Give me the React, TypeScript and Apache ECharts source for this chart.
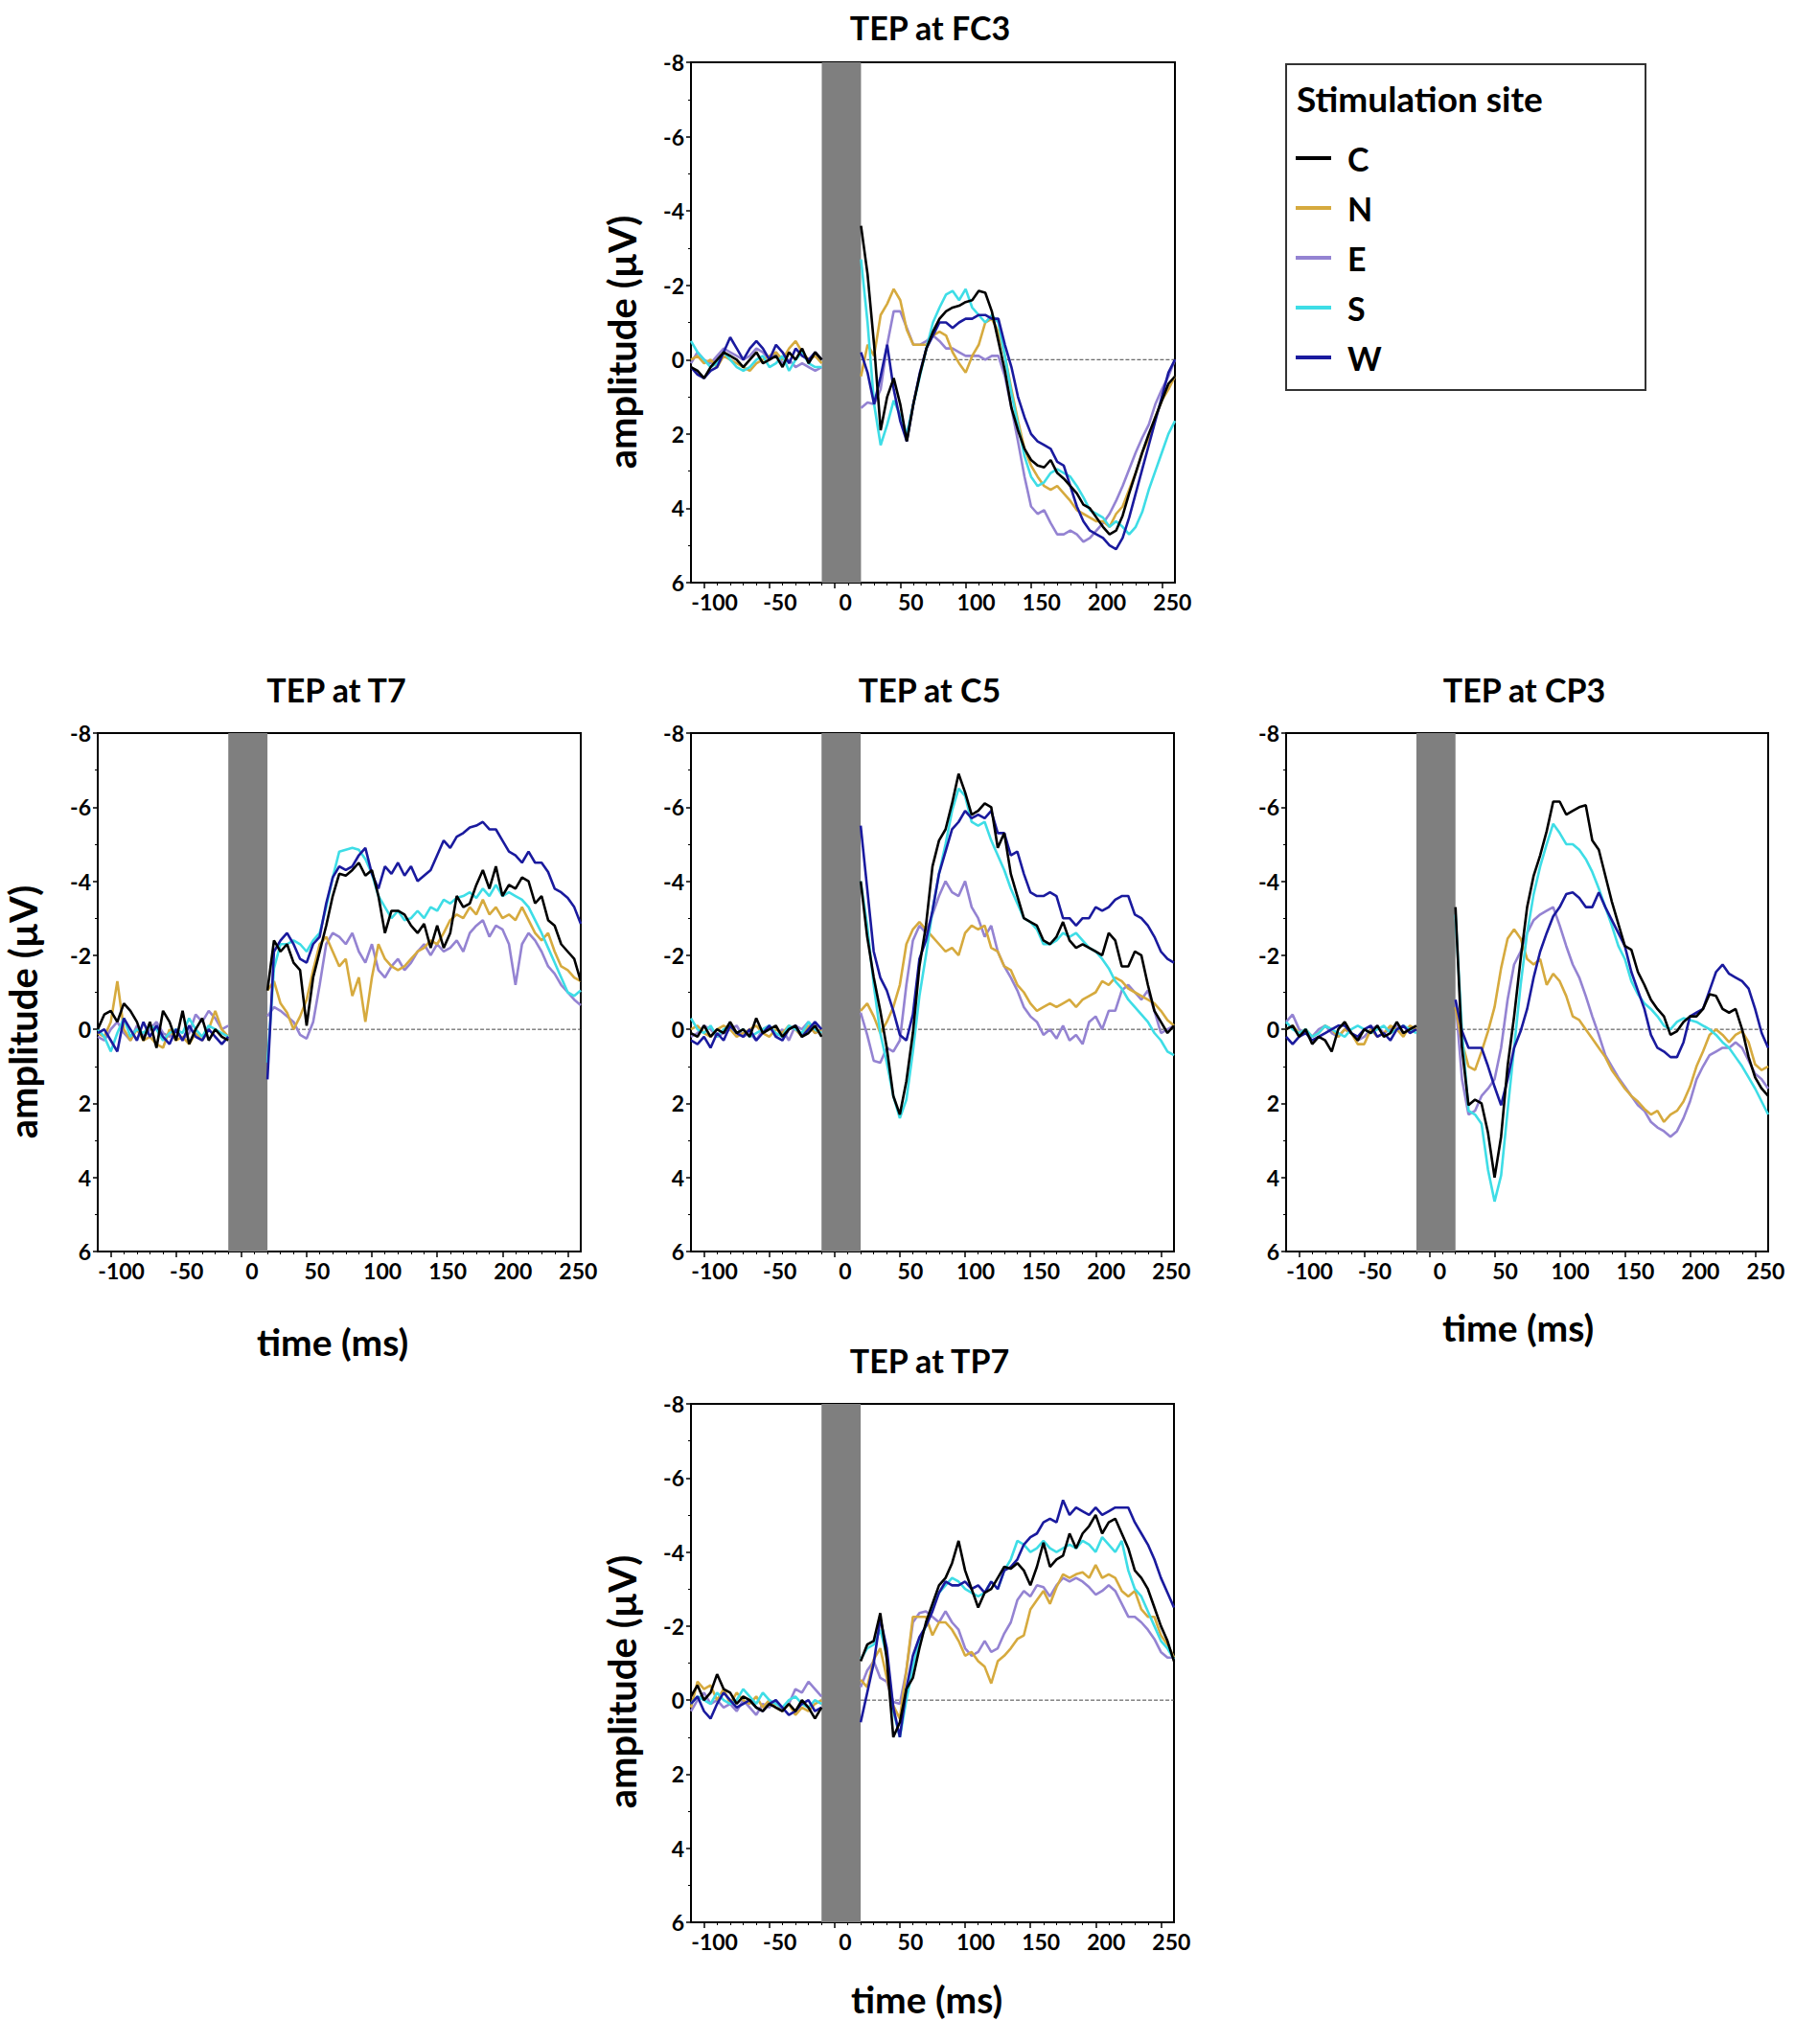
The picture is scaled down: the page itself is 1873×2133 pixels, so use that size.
import React, { useEffect, useRef } from "react";
import * as echarts from "echarts";

// time samples (ms)
const BASE_T = [-110, -105, -100, -95, -90, -85, -80, -75, -70, -65, -60, -55, -50, -45, -40, -35, -30, -25, -20, -15, -10];
const POST_T = [20, 25, 30, 35, 40, 45, 50, 55, 60, 65, 70, 75, 80, 85, 90, 95, 100, 105, 110, 115, 120, 125, 130, 135, 140, 145, 150, 155, 160, 165, 170, 175, 180, 185, 190, 195, 200, 205, 210, 215, 220, 225, 230, 235, 240, 245, 250, 255, 260];

const X_MAJOR = [-100, -50, 0, 50, 100, 150, 200, 250];
const X_MINOR = [-90, -80, -70, -60, -40, -30, -20, -10, 10, 20, 30, 40, 60, 70, 80, 90, 110, 120, 130, 140, 160, 170, 180, 190, 210, 220, 230, 240];
const PULSE_WINDOW = [-10, 20];
const X_MIN = -110;
const X_MAX = 260;

const SITES = ["C", "N", "E", "S", "W"];
const SITE_COLORS = ["#000000", "#D6AA3E", "#9483D2", "#3EDDE6", "#1A1A9E"];

// ---------- FC3 ----------
const FC3_BASE_C = [0.2, 0.3, 0.5, 0.2, 0.0, -0.2, -0.1, 0.0, 0.2, 0.0, -0.2, 0.1, 0.0, -0.1, 0.2, -0.2, 0.0, -0.3, 0.1, -0.2, 0.0];
const FC3_BASE_N = [0.0, -0.1, 0.1, 0.0, 0.2, -0.1, 0.0, 0.1, 0.2, 0.3, 0.1, 0.0, -0.1, -0.2, 0.0, -0.3, -0.5, -0.2, 0.0, -0.1, 0.1];
const FC3_BASE_E = [0.1, -0.2, 0.0, 0.1, -0.1, -0.3, -0.2, -0.1, 0.0, -0.1, -0.3, -0.2, 0.0, -0.2, 0.1, 0.0, 0.2, 0.1, 0.2, 0.3, 0.2];
const FC3_BASE_S = [-0.5, -0.2, 0.0, 0.2, 0.1, -0.2, 0.0, 0.2, 0.3, 0.2, 0.0, -0.1, 0.2, 0.1, -0.1, 0.3, 0.0, -0.2, 0.1, 0.2, 0.2];
const FC3_BASE_W = [0.2, 0.4, 0.5, 0.3, 0.2, -0.2, -0.6, -0.3, 0.0, -0.3, -0.5, -0.3, 0.0, -0.4, -0.2, 0.1, -0.3, -0.1, 0.0, -0.2, 0.0];
const FC3_POST_C = [-3.6, -2.3, -0.4, 1.9, 1.0, 0.5, 1.2, 2.2, 1.2, 0.4, -0.3, -0.75, -1.1, -1.3, -1.4, -1.45, -1.55, -1.6, -1.85, -1.8, -1.3, -0.5, 0.3, 1.3, 1.9, 2.4, 2.7, 2.85, 2.9, 2.7, 3.05, 3.2, 3.4, 3.6, 3.9, 4.0, 4.25, 4.5, 4.7, 4.6, 4.2, 3.6, 3.05, 2.5, 2.0, 1.55, 1.1, 0.65, 0.45];
const FC3_POST_N = [0.45, -0.4, -0.1, -1.2, -1.5, -1.9, -1.6, -0.8, -0.4, -0.4, -0.4, -0.65, -0.75, -0.65, -0.2, 0.1, 0.35, -0.1, -0.4, -1.0, -1.1, -0.75, -0.1, 0.8, 1.65, 2.4, 2.85, 3.15, 3.4, 3.5, 3.4, 3.6, 3.8, 4.05, 4.15, 4.25, 4.35, 4.35, 4.5, 4.15, 3.95, 3.5, 3.05, 2.5, 2.1, 1.55, 1.1, 0.8, 0.45];
const FC3_POST_E = [1.3, 1.15, 1.2, 0.8, -0.4, -1.3, -1.3, -0.85, -0.4, -0.4, -0.5, -0.65, -0.5, -0.3, -0.3, -0.2, -0.1, -0.1, -0.1, 0.0, -0.1, -0.1, 0.45, 1.3, 2.2, 3.15, 3.95, 4.15, 4.05, 4.4, 4.7, 4.7, 4.6, 4.7, 4.9, 4.8, 4.6, 4.4, 4.15, 3.8, 3.4, 2.95, 2.5, 2.1, 1.75, 1.2, 0.8, 0.45, 0.0];
const FC3_POST_S = [-2.7, -1.0, 1.2, 2.3, 1.75, 1.1, 1.5, 2.0, 1.2, 0.45, -0.3, -1.0, -1.4, -1.75, -1.85, -1.6, -1.9, -1.4, -1.2, -1.0, -1.2, -1.0, -0.1, 0.9, 1.75, 2.6, 3.15, 3.4, 3.3, 3.05, 2.95, 3.05, 3.15, 3.4, 3.7, 4.05, 4.15, 4.25, 4.5, 4.35, 4.5, 4.7, 4.5, 4.1, 3.5, 3.0, 2.5, 2.0, 1.65];
const FC3_POST_W = [-0.2, 0.35, 1.2, 0.45, -0.4, 0.8, 1.65, 2.2, 1.2, 0.35, -0.3, -0.65, -1.0, -1.0, -0.85, -1.0, -1.1, -1.1, -1.2, -1.2, -1.1, -1.1, -0.4, 0.2, 1.0, 1.55, 2.0, 2.2, 2.3, 2.4, 2.75, 2.85, 3.4, 3.95, 4.35, 4.6, 4.7, 4.8, 5.0, 5.1, 4.8, 4.25, 3.6, 2.95, 2.3, 1.65, 1.0, 0.35, 0.0];

// ---------- T7 ----------
const T7_BASE_C = [0.0, -0.4, -0.5, -0.2, -0.7, -0.5, -0.2, 0.3, -0.2, 0.5, -0.5, -0.2, 0.3, -0.5, 0.4, 0.0, -0.3, 0.3, 0.0, 0.2, 0.3];
const T7_BASE_N = [0.1, 0.2, -0.2, -1.3, 0.0, 0.3, 0.0, 0.3, 0.2, 0.4, 0.5, 0.0, 0.3, 0.2, 0.4, 0.1, 0.3, 0.0, -0.5, 0.0, 0.2];
const T7_BASE_E = [0.2, 0.3, 0.0, -0.2, 0.1, 0.3, -0.1, 0.2, 0.0, -0.2, 0.1, 0.2, 0.0, 0.3, 0.1, -0.4, -0.2, -0.5, -0.3, 0.0, -0.1];
const T7_BASE_S = [0.0, 0.2, 0.6, 0.1, -0.3, 0.2, 0.0, 0.1, -0.1, 0.0, 0.3, 0.1, 0.0, 0.1, -0.3, 0.0, 0.2, -0.1, 0.0, 0.1, 0.2];
const T7_BASE_W = [0.1, 0.0, 0.3, 0.6, -0.3, 0.0, 0.3, -0.2, 0.2, -0.1, 0.2, 0.4, 0.0, 0.3, -0.1, 0.2, 0.3, 0.0, 0.2, 0.4, 0.2];
const T7_POST_C = [-1.05, -2.4, -2.1, -2.3, -1.8, -1.6, -0.1, -1.4, -2.1, -2.8, -3.6, -4.2, -4.15, -4.3, -4.5, -4.15, -4.3, -3.6, -2.6, -3.2, -3.2, -3.1, -2.8, -2.6, -2.85, -2.2, -2.8, -2.2, -2.6, -3.6, -3.3, -3.4, -3.9, -4.3, -3.8, -4.4, -3.6, -3.9, -3.8, -4.1, -4.0, -3.4, -3.6, -2.95, -2.8, -2.3, -2.1, -1.9, -1.3];
const T7_POST_N = [-1.05, -1.3, -0.7, -0.45, 0.0, -0.35, -0.8, -1.6, -2.3, -2.5, -2.1, -1.7, -1.9, -0.9, -1.4, -0.2, -1.4, -2.3, -1.9, -1.7, -1.6, -1.7, -1.9, -2.1, -2.2, -2.4, -2.3, -2.6, -2.95, -3.1, -3.0, -3.3, -3.1, -3.5, -3.1, -3.3, -3.0, -3.1, -2.95, -3.3, -2.95, -2.6, -2.4, -2.6, -2.1, -1.7, -1.6, -1.4, -1.3];
const T7_POST_E = [-0.35, -0.6, -0.5, -0.35, -0.2, 0.15, 0.25, -0.2, -1.2, -2.3, -2.6, -2.5, -2.3, -2.6, -2.1, -1.8, -2.3, -1.6, -1.4, -1.7, -1.9, -1.6, -1.8, -2.1, -2.3, -2.0, -2.3, -2.1, -2.2, -2.4, -2.1, -2.6, -2.8, -2.95, -2.5, -2.8, -2.7, -2.3, -1.2, -2.3, -2.6, -2.4, -2.1, -1.7, -1.5, -1.2, -1.0, -0.8, -0.65];
const T7_POST_S = [0.9, -1.65, -2.3, -2.3, -2.4, -2.3, -2.1, -2.4, -2.6, -3.3, -4.1, -4.8, -4.85, -4.9, -4.85, -4.6, -4.2, -3.6, -3.3, -3.0, -3.2, -2.95, -3.0, -3.2, -3.0, -3.3, -3.2, -3.5, -3.4, -3.55, -3.6, -3.7, -3.55, -3.8, -3.6, -3.9, -3.6, -3.7, -3.6, -3.5, -3.3, -2.95, -2.6, -2.2, -1.8, -1.4, -1.0, -0.9, -1.05];
const T7_POST_W = [1.35, -2.1, -2.4, -2.6, -2.3, -1.9, -1.8, -2.3, -2.5, -3.4, -4.1, -4.4, -4.3, -4.4, -4.7, -4.9, -4.2, -3.8, -4.4, -4.2, -4.5, -4.15, -4.4, -4.0, -4.15, -4.3, -4.7, -5.1, -4.9, -5.2, -5.3, -5.45, -5.5, -5.6, -5.4, -5.4, -5.1, -4.8, -4.7, -4.5, -4.8, -4.5, -4.5, -4.25, -3.8, -3.7, -3.55, -3.3, -2.85];

// ---------- C5 ----------
const C5_BASE_C = [0.1, 0.2, -0.1, 0.2, 0.0, 0.1, -0.2, 0.1, 0.0, 0.2, -0.3, 0.1, 0.0, -0.1, 0.2, 0.0, -0.1, 0.2, 0.1, -0.1, 0.2];
const C5_BASE_N = [0.0, -0.1, 0.1, 0.2, 0.0, -0.1, 0.0, 0.2, 0.1, 0.0, -0.1, 0.1, 0.2, 0.0, 0.1, -0.1, 0.0, 0.2, -0.1, 0.1, 0.0];
const C5_BASE_E = [0.2, 0.1, -0.1, 0.0, 0.2, 0.1, 0.0, -0.1, 0.2, 0.1, 0.3, 0.0, -0.1, 0.2, 0.0, 0.3, -0.1, 0.0, -0.2, 0.1, 0.0];
const C5_BASE_S = [-0.3, 0.0, 0.1, -0.1, 0.2, 0.0, -0.1, 0.1, 0.0, 0.2, 0.1, 0.0, -0.1, 0.1, 0.2, -0.1, 0.0, 0.1, -0.2, 0.0, 0.1];
const C5_BASE_W = [0.3, 0.4, 0.2, 0.5, 0.1, 0.3, -0.1, 0.1, 0.2, 0.0, 0.3, 0.1, -0.1, 0.2, 0.3, 0.0, -0.1, 0.2, 0.0, -0.2, 0.0];
const C5_POST_C = [-4.0, -2.5, -1.4, -0.5, 0.5, 1.8, 2.3, 1.4, 0.1, -1.7, -2.8, -4.4, -5.1, -5.4, -6.1, -6.9, -6.4, -5.8, -5.9, -6.1, -6.0, -4.9, -5.3, -4.2, -3.6, -3.0, -2.9, -2.8, -2.4, -2.3, -2.5, -2.9, -2.4, -2.2, -2.3, -2.2, -2.1, -2.0, -2.6, -2.4, -1.7, -1.7, -2.1, -2.0, -1.2, -0.5, -0.2, 0.1, -0.1];
const C5_POST_N = [-0.5, -0.7, -0.35, 0.1, -0.2, -0.6, -1.2, -2.3, -2.7, -2.9, -2.7, -2.5, -2.3, -2.1, -2.2, -2.0, -2.6, -2.8, -2.7, -2.8, -2.2, -2.1, -1.7, -1.6, -1.2, -1.0, -0.7, -0.5, -0.6, -0.7, -0.6, -0.7, -0.8, -0.6, -0.8, -0.9, -1.0, -1.3, -1.2, -1.4, -1.3, -1.1, -1.0, -0.9, -0.8, -0.7, -0.5, -0.25, -0.1];
const C5_POST_E = [-0.45, 0.15, 0.85, 0.9, 0.5, 0.6, 0.3, -1.2, -2.4, -2.8, -2.6, -3.1, -3.6, -4.0, -3.7, -3.6, -4.0, -3.3, -3.0, -2.5, -2.8, -2.1, -1.7, -1.4, -1.05, -0.6, -0.35, -0.2, 0.15, 0.0, 0.25, -0.1, 0.3, 0.15, 0.4, -0.2, -0.35, 0.0, -0.5, -0.5, -1.05, -1.2, -1.0, -0.8, -1.05, -0.5, 0.1, 0.0, -0.1];
const C5_POST_S = [-4.0, -2.8, -1.2, 0.1, 0.9, 1.8, 2.4, 1.9, 0.6, -0.9, -2.0, -3.2, -4.2, -5.0, -5.9, -6.5, -6.3, -5.6, -5.5, -5.6, -5.1, -4.7, -4.3, -3.8, -3.4, -3.0, -2.9, -2.7, -2.3, -2.3, -2.4, -2.6, -2.5, -2.6, -2.4, -2.2, -2.1, -1.9, -1.65, -1.3, -1.1, -0.8, -0.6, -0.4, -0.2, 0.1, 0.3, 0.6, 0.7];
const C5_POST_W = [-5.5, -3.8, -2.1, -1.4, -1.05, -0.5, 0.15, 0.3, -0.4, -1.9, -2.4, -3.2, -4.2, -4.8, -5.4, -5.6, -5.9, -5.7, -5.8, -5.7, -5.9, -5.3, -5.3, -4.7, -4.8, -4.2, -3.7, -3.6, -3.6, -3.7, -3.6, -3.0, -3.0, -2.8, -3.0, -3.0, -3.3, -3.2, -3.3, -3.5, -3.6, -3.6, -3.1, -3.0, -2.8, -2.5, -2.1, -1.9, -1.8];

// ---------- CP3 ----------
const CP3_BASE_C = [0.0, -0.1, 0.2, 0.0, 0.4, 0.2, 0.3, 0.6, 0.0, -0.2, 0.1, 0.3, 0.0, 0.1, -0.1, 0.2, 0.1, -0.2, 0.1, 0.0, -0.1];
const CP3_BASE_N = [0.0, -0.1, 0.1, 0.0, 0.2, 0.1, -0.1, 0.0, 0.2, 0.0, 0.1, 0.4, 0.4, 0.0, 0.2, 0.1, -0.1, 0.0, 0.2, -0.1, 0.0];
const CP3_BASE_E = [-0.2, -0.4, 0.0, 0.1, 0.2, 0.0, -0.1, 0.1, 0.2, 0.0, 0.1, 0.3, 0.2, 0.0, -0.1, 0.1, 0.0, -0.1, 0.1, 0.0, 0.0];
const CP3_BASE_S = [-0.2, 0.0, 0.1, 0.0, 0.2, 0.1, -0.1, 0.0, 0.1, 0.2, 0.0, -0.1, 0.0, 0.1, 0.0, -0.1, 0.1, 0.0, -0.1, 0.0, 0.1];
const CP3_BASE_W = [0.2, 0.4, 0.2, 0.1, 0.3, 0.2, 0.1, 0.0, -0.1, -0.1, 0.1, 0.2, 0.0, -0.1, 0.2, 0.1, 0.3, 0.0, -0.1, 0.1, 0.0];
const CP3_POST_C = [-3.3, 0.5, 2.05, 1.9, 2.0, 2.8, 4.0, 2.9, 1.0, -0.35, -1.9, -3.3, -4.15, -4.7, -5.35, -6.15, -6.15, -5.8, -5.9, -6.0, -6.05, -5.1, -4.85, -4.15, -3.45, -2.85, -2.25, -2.15, -1.55, -1.2, -0.8, -0.55, -0.35, 0.15, 0.05, -0.2, -0.35, -0.35, -0.55, -0.95, -0.9, -0.55, -0.45, -0.55, 0.0, 0.75, 1.3, 1.6, 1.8];
const CP3_POST_N = [-0.6, 0.35, 1.0, 1.1, 0.6, 0.05, -0.6, -1.65, -2.45, -2.7, -2.45, -1.9, -1.75, -1.9, -1.2, -1.5, -1.3, -0.9, -0.35, -0.25, 0.0, 0.25, 0.5, 0.75, 1.1, 1.35, 1.6, 1.8, 1.95, 2.15, 2.3, 2.2, 2.5, 2.3, 2.2, 1.95, 1.55, 1.0, 0.6, 0.15, 0.0, 0.15, 0.35, 0.15, 0.05, 0.35, 0.95, 1.1, 1.0];
const CP3_POST_E = [-0.8, 1.35, 2.3, 2.2, 1.8, 1.6, 1.35, 0.5, -0.8, -1.75, -2.1, -2.6, -2.95, -3.1, -3.2, -3.3, -2.8, -2.25, -1.75, -1.4, -0.9, -0.35, 0.15, 0.7, 1.0, 1.3, 1.55, 1.8, 2.05, 2.2, 2.5, 2.65, 2.75, 2.9, 2.75, 2.4, 1.95, 1.35, 1.0, 0.7, 0.6, 0.5, 0.5, 0.35, 0.5, 0.85, 1.2, 1.35, 1.6];
const CP3_POST_S = [-3.1, 0.05, 2.2, 2.3, 2.55, 3.8, 4.65, 3.95, 2.2, 0.5, -1.2, -2.6, -3.65, -4.4, -5.0, -5.55, -5.3, -5.0, -5.0, -4.85, -4.6, -4.25, -3.8, -3.3, -2.8, -2.25, -1.9, -1.3, -0.95, -0.7, -0.55, -0.35, -0.1, 0.0, -0.2, -0.3, -0.25, -0.2, -0.1, 0.0, 0.15, 0.35, 0.5, 0.75, 1.0, 1.3, 1.6, 1.95, 2.3];
const CP3_POST_W = [-0.8, 0.05, 0.5, 0.5, 0.5, 1.0, 1.55, 2.05, 1.35, 0.5, 0.05, -0.55, -1.4, -2.1, -2.6, -3.05, -3.3, -3.65, -3.7, -3.55, -3.3, -3.3, -3.7, -3.3, -2.95, -2.6, -2.25, -1.55, -1.05, -0.55, 0.15, 0.5, 0.6, 0.75, 0.75, 0.35, -0.35, -0.45, -0.55, -1.05, -1.55, -1.75, -1.5, -1.4, -1.3, -1.1, -0.55, 0.1, 0.5];

// ---------- TP7 ----------
const TP7_BASE_C = [-0.1, -0.4, 0.0, -0.2, -0.7, -0.3, -0.2, 0.1, -0.1, 0.0, 0.2, 0.3, 0.1, 0.2, 0.3, 0.1, 0.3, 0.0, 0.2, 0.5, 0.2];
const TP7_BASE_N = [0.2, -0.5, -0.3, -0.4, 0.0, -0.3, 0.1, -0.2, 0.0, 0.1, -0.1, 0.2, 0.0, 0.2, 0.3, 0.1, 0.4, 0.2, 0.3, 0.1, 0.0];
const TP7_BASE_E = [0.3, 0.0, -0.2, 0.1, 0.0, 0.2, 0.1, 0.3, 0.0, 0.2, 0.4, 0.1, 0.2, 0.0, 0.3, 0.1, -0.3, -0.2, -0.5, -0.3, -0.1];
const TP7_BASE_S = [0.1, -0.1, 0.0, 0.1, -0.2, 0.0, 0.1, 0.0, -0.3, -0.1, 0.1, -0.2, 0.0, 0.1, 0.2, 0.0, -0.1, 0.1, 0.2, 0.0, 0.1];
const TP7_BASE_W = [0.1, -0.1, 0.3, 0.5, 0.1, -0.2, 0.0, 0.2, 0.1, 0.0, 0.2, 0.3, 0.1, 0.0, 0.2, 0.4, 0.3, 0.1, 0.0, 0.3, 0.2];
const TP7_POST_C = [-1.05, -1.5, -1.6, -2.35, -1.1, 1.0, 0.6, -0.3, -0.6, -1.4, -2.1, -2.6, -3.1, -3.3, -3.7, -4.3, -3.5, -3.0, -2.5, -2.9, -3.0, -3.3, -3.6, -3.55, -3.7, -3.5, -3.1, -3.6, -4.25, -3.6, -3.8, -3.9, -4.5, -4.1, -4.5, -4.7, -5.0, -4.5, -4.8, -4.9, -4.5, -4.1, -3.5, -3.3, -3.0, -2.5, -2.0, -1.6, -1.05];
const TP7_POST_N = [-0.55, -0.35, -1.1, -1.4, -0.6, 0.15, 0.5, -0.8, -2.25, -2.25, -2.25, -1.75, -2.1, -2.1, -1.9, -1.6, -1.2, -1.3, -1.05, -0.9, -0.45, -1.05, -1.2, -1.4, -1.65, -1.75, -2.45, -2.7, -2.95, -2.6, -3.05, -3.4, -3.3, -3.4, -3.45, -3.3, -3.65, -3.3, -3.4, -3.3, -2.95, -2.8, -2.95, -2.45, -2.25, -2.25, -1.75, -1.5, -1.15];
const TP7_POST_E = [-0.35, -0.8, -1.05, -0.6, -0.5, 0.05, 0.1, -0.8, -2.1, -2.35, -2.4, -2.25, -2.1, -2.4, -2.1, -1.9, -1.4, -1.2, -1.3, -1.6, -1.3, -1.4, -1.8, -2.1, -2.7, -2.95, -2.8, -3.1, -3.05, -2.8, -3.1, -3.3, -3.2, -3.3, -3.2, -3.05, -2.85, -2.95, -3.1, -2.95, -2.6, -2.25, -2.25, -2.1, -1.9, -1.65, -1.3, -1.15, -1.15];
const TP7_POST_S = [-1.1, -1.4, -1.5, -1.9, -1.2, 0.3, 1.0, 0.0, -0.9, -1.6, -2.0, -2.5, -2.9, -3.1, -3.3, -3.2, -3.0, -2.9, -2.8, -2.9, -3.2, -3.0, -3.5, -3.8, -4.3, -4.2, -4.0, -4.1, -4.3, -4.1, -4.0, -4.1, -4.2, -4.1, -4.3, -4.2, -4.0, -4.4, -4.2, -4.0, -4.3, -3.5, -3.0, -2.8, -2.4, -2.0, -1.6, -1.4, -1.1];
const TP7_POST_W = [0.6, -0.2, -1.0, -2.2, -1.4, 0.2, 1.0, -0.3, -1.2, -1.7, -2.0, -2.4, -2.9, -3.2, -3.1, -3.1, -3.2, -3.0, -3.1, -2.9, -3.2, -3.0, -3.5, -3.6, -3.8, -4.2, -4.4, -4.5, -4.8, -4.9, -4.8, -5.4, -5.0, -5.2, -5.1, -5.0, -5.2, -5.0, -5.1, -5.2, -5.2, -5.2, -4.8, -4.5, -4.2, -3.8, -3.3, -2.9, -2.5];

const BASES: Record<string, number[][]> = {
  FC3: [FC3_BASE_C, FC3_BASE_N, FC3_BASE_E, FC3_BASE_S, FC3_BASE_W],
  T7: [T7_BASE_C, T7_BASE_N, T7_BASE_E, T7_BASE_S, T7_BASE_W],
  C5: [C5_BASE_C, C5_BASE_N, C5_BASE_E, C5_BASE_S, C5_BASE_W],
  CP3: [CP3_BASE_C, CP3_BASE_N, CP3_BASE_E, CP3_BASE_S, CP3_BASE_W],
  TP7: [TP7_BASE_C, TP7_BASE_N, TP7_BASE_E, TP7_BASE_S, TP7_BASE_W],
};
const POSTS: Record<string, number[][]> = {
  FC3: [FC3_POST_C, FC3_POST_N, FC3_POST_E, FC3_POST_S, FC3_POST_W],
  T7: [T7_POST_C, T7_POST_N, T7_POST_E, T7_POST_S, T7_POST_W],
  C5: [C5_POST_C, C5_POST_N, C5_POST_E, C5_POST_S, C5_POST_W],
  CP3: [CP3_POST_C, CP3_POST_N, CP3_POST_E, CP3_POST_S, CP3_POST_W],
  TP7: [TP7_POST_C, TP7_POST_N, TP7_POST_E, TP7_POST_S, TP7_POST_W],
};

const PANELS = [
  { key: "FC3", title: "TEP at FC3", left: 721, top: 65, w: 505, h: 543, titleY: 28, yName: [649, 357], xName: null },
  { key: "T7", title: "TEP at T7", left: 102, top: 765, w: 504, h: 541, titleY: 719, yName: [24, 1056], xName: [347, 1400] },
  { key: "C5", title: "TEP at C5", left: 721, top: 765, w: 504, h: 541, titleY: 719, yName: null, xName: null },
  { key: "CP3", title: "TEP at CP3", left: 1342, top: 765, w: 503, h: 541, titleY: 719, yName: null, xName: [1584, 1385] },
  { key: "TP7", title: "TEP at TP7", left: 721, top: 1465, w: 504, h: 541, titleY: 1419, yName: [649, 1755], xName: [967, 2086] },
];

const FONT = "Lato";
const DRAW_ORDER = [2, 1, 3, 4, 0];

function buildOption() {
  const grid: any[] = [];
  const xAxis: any[] = [];
  const yAxis: any[] = [];
  const series: any[] = [];
  const graphic: any[] = [];

  PANELS.forEach((p, i) => {
    grid.push({ left: p.left, top: p.top, width: p.w, height: p.h, show: true, borderColor: "#000", borderWidth: 2, backgroundColor: "transparent" });
    xAxis.push({
      gridIndex: i, type: "value", min: X_MIN, max: X_MAX, position: "bottom",
      axisLine: { show: true, onZero: false, lineStyle: { color: "#000", width: 2 } },
      axisTick: { show: true, customValues: X_MAJOR, length: 6, lineStyle: { color: "#000", width: 1.5 } },
      axisLabel: { customValues: X_MAJOR, fontSize: 23, fontWeight: "bold", fontFamily: FONT, color: "#000", margin: 8, padding: [0, 0, 0, 22] },
      splitLine: { show: false },
    });
    xAxis.push({
      gridIndex: i, type: "value", min: X_MIN, max: X_MAX, position: "bottom", offset: 0,
      axisLine: { show: false, onZero: false },
      axisTick: { show: true, customValues: X_MINOR, length: 3, lineStyle: { color: "#000", width: 1 } },
      axisLabel: { show: false },
      splitLine: { show: false },
    });
    yAxis.push({
      gridIndex: i, type: "value", inverse: true, min: -8, max: 6, interval: 2,
      axisLine: { show: true, onZero: false, lineStyle: { color: "#000", width: 2 } },
      axisTick: { show: true, length: 5, lineStyle: { color: "#000", width: 1.5 } },
      minorTick: { show: true, splitNumber: 2, length: 3, lineStyle: { color: "#000", width: 1 } },
      axisLabel: { fontSize: 23, fontWeight: "bold", fontFamily: FONT, color: "#000", margin: 7 },
      splitLine: { show: false },
      minorSplitLine: { show: false },
    });

    // zero reference line + TMS pulse window
    series.push({
      type: "line", xAxisIndex: 2 * i, yAxisIndex: i, silent: true, symbol: "none", z: 1,
      data: [[PULSE_WINDOW[1], 0], [X_MAX, 0]],
      lineStyle: { color: "#444", width: 1, type: [4, 2] },
      markArea: { silent: true, itemStyle: { color: "#7f7f7f" }, data: [[{ xAxis: PULSE_WINDOW[0] }, { xAxis: PULSE_WINDOW[1] }]] },
    });

    DRAW_ORDER.forEach((k, order) => {
      const name = SITES[k];
      const color = SITE_COLORS[k];
      const base = BASES[p.key][k];
      const post = POSTS[p.key][k];
      const common = {
        type: "line", name, xAxisIndex: 2 * i, yAxisIndex: i, symbol: "none", showSymbol: false, silent: true,
        lineStyle: { color, width: 2.6 }, itemStyle: { color }, z: 3 + order,
      };
      series.push({ ...common, data: BASE_T.map((t, j) => [t, base[j]]) });
      series.push({ ...common, data: POST_T.map((t, j) => [t, post[j]]) });
    });

    graphic.push({
      type: "text", x: p.left + p.w / 2 - 3, y: p.titleY,
      style: { text: p.title, fontSize: 34, fontWeight: "bold", fontFamily: FONT, fill: "#000", align: "center", verticalAlign: "middle" },
    });
    if (p.yName) {
      graphic.push({
        type: "text", x: p.yName[0], y: p.yName[1], rotation: Math.PI / 2,
        style: { text: "amplitude (µV)", fontSize: 40, fontWeight: "bold", fontFamily: FONT, fill: "#000", align: "center", verticalAlign: "middle" },
      });
    }
    if (p.xName) {
      graphic.push({
        type: "text", x: p.xName[0], y: p.xName[1],
        style: { text: "time (ms)", fontSize: 39, fontWeight: "bold", fontFamily: FONT, fill: "#000", align: "center", verticalAlign: "middle" },
      });
    }
  });

  graphic.push({
    type: "rect", z: 0, shape: { x: 1342, y: 67, width: 375, height: 340 },
    style: { fill: "#fff", stroke: "#333", lineWidth: 2 },
  });
  graphic.push({
    type: "text", x: 1353, y: 102, z: 1,
    style: { text: "Stimulation site", fontSize: 37, fontWeight: "bold", fontFamily: FONT, fill: "#000", align: "left", verticalAlign: "middle" },
  });

  return {
    animation: false,
    backgroundColor: "#fff",
    textStyle: { fontFamily: FONT },
    grid, xAxis, yAxis, series, graphic,
    legend: {
      data: SITES, orient: "vertical", left: 1352, top: 145, padding: 0,
      itemWidth: 37, itemHeight: 4, itemGap: 12, icon: "rect", selectedMode: false, z: 10,
      textStyle: { fontSize: 34, fontWeight: "bold", fontFamily: FONT, color: "#000", lineHeight: 40, padding: [0, 0, 0, 12] },
    },
  };
}

export default function App() {
  const ref = useRef<HTMLDivElement>(null);
  useEffect(() => {
    if (!ref.current) return;
    const chart = echarts.init(ref.current, null, { renderer: "svg", width: 1873, height: 2133 });
    chart.setOption(buildOption() as any);
    return () => chart.dispose();
  }, []);
  return (
    <div
      ref={ref}
      style={{ position: "absolute", left: 0, top: 0, width: 1873, height: 2133, background: "#fff" }}
    />
  );
}
